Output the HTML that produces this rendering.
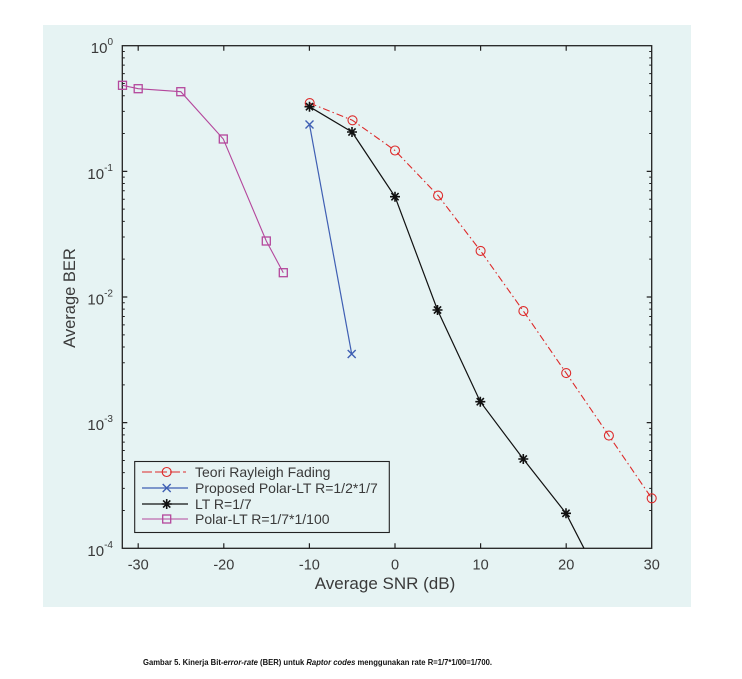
<!DOCTYPE html>
<html><head><meta charset="utf-8"><style>
html,body{margin:0;padding:0;background:#fff;}
svg{display:block;}
text{font-family:"Liberation Sans",Arial,sans-serif;}
</style></head><body>
<svg width="742" height="679" viewBox="0 0 742 679" xmlns="http://www.w3.org/2000/svg">
<rect x="0" y="0" width="742" height="679" fill="#ffffff"/>
<rect x="43" y="25" width="648" height="582" fill="#e6f3f3"/>

<!-- axes box -->
<rect x="122.3" y="45.7" width="529.4" height="502.6" fill="none" stroke="#222" stroke-width="1.3"/>

<!-- x major ticks -->
<path d="M138.2,548.3v-5M223.8,548.3v-5M309.4,548.3v-5M395,548.3v-5M480.6,548.3v-5M566.2,548.3v-5
M138.2,45.7v5M223.8,45.7v5M309.4,45.7v5M395,45.7v5M480.6,45.7v5M566.2,45.7v5" stroke="#222" stroke-width="1.2" fill="none"/>
<!-- y major ticks -->
<path d="M122.3,171.35h5M122.3,297h5M122.3,422.65h5M651.7,171.35h-5M651.7,297h-5M651.7,422.65h-5" stroke="#222" stroke-width="1.2" fill="none"/>
<!-- y minor ticks -->
<path d="M122.3,133.53h2.5M122.3,111.4h2.5M122.3,95.7h2.5M122.3,83.52h2.5M122.3,73.57h2.5M122.3,65.16h2.5M122.3,57.88h2.5M122.3,51.45h2.5
M122.3,259.18h2.5M122.3,237.05h2.5M122.3,221.35h2.5M122.3,209.17h2.5M122.3,199.22h2.5M122.3,190.81h2.5M122.3,183.53h2.5M122.3,177.1h2.5
M122.3,384.83h2.5M122.3,362.7h2.5M122.3,347h2.5M122.3,334.82h2.5M122.3,324.87h2.5M122.3,316.46h2.5M122.3,309.18h2.5M122.3,302.75h2.5
M122.3,510.48h2.5M122.3,488.35h2.5M122.3,472.65h2.5M122.3,460.47h2.5M122.3,450.52h2.5M122.3,442.11h2.5M122.3,434.83h2.5M122.3,428.4h2.5
M651.7,133.53h-2.5M651.7,111.4h-2.5M651.7,95.7h-2.5M651.7,83.52h-2.5M651.7,73.57h-2.5M651.7,65.16h-2.5M651.7,57.88h-2.5M651.7,51.45h-2.5
M651.7,259.18h-2.5M651.7,237.05h-2.5M651.7,221.35h-2.5M651.7,209.17h-2.5M651.7,199.22h-2.5M651.7,190.81h-2.5M651.7,183.53h-2.5M651.7,177.1h-2.5
M651.7,384.83h-2.5M651.7,362.7h-2.5M651.7,347h-2.5M651.7,334.82h-2.5M651.7,324.87h-2.5M651.7,316.46h-2.5M651.7,309.18h-2.5M651.7,302.75h-2.5
M651.7,510.48h-2.5M651.7,488.35h-2.5M651.7,472.65h-2.5M651.7,460.47h-2.5M651.7,450.52h-2.5M651.7,442.11h-2.5M651.7,434.83h-2.5M651.7,428.4h-2.5" stroke="#222" stroke-width="1" fill="none"/>

<!-- y tick labels -->
<g fill="#3a3a3a" font-size="15" text-anchor="end">
<text x="113" y="53">10<tspan dy="-8" font-size="10">0</tspan></text>
<text x="113" y="178.8">10<tspan dy="-8" font-size="10">-1</tspan></text>
<text x="113" y="304.5">10<tspan dy="-8" font-size="10">-2</tspan></text>
<text x="113" y="430.1">10<tspan dy="-8" font-size="10">-3</tspan></text>
<text x="113" y="555.8">10<tspan dy="-8" font-size="10">-4</tspan></text>
</g>
<!-- x tick labels -->
<g fill="#3a3a3a" font-size="14.5" text-anchor="middle">
<text x="138.2" y="569.5">-30</text>
<text x="223.8" y="569.5">-20</text>
<text x="309.4" y="569.5">-10</text>
<text x="395" y="569.5">0</text>
<text x="480.6" y="569.5">10</text>
<text x="566.2" y="569.5">20</text>
<text x="651.7" y="569.5">30</text>
</g>
<!-- axis labels -->
<text x="385" y="589" font-size="17" fill="#3a3a3a" text-anchor="middle">Average SNR (dB)</text>
<text transform="translate(75,298) rotate(-90)" font-size="16.5" fill="#3a3a3a" text-anchor="middle">Average BER</text>

<!-- Teori Rayleigh (red dash-dot) -->
<polyline points="309.7,103.1 352.5,120.3 395,150.5 438.1,195.6 480.6,250.9 523.4,311.1 566.2,373.1 608.9,435.6 651.7,498.3" fill="none" stroke="#dd2a2a" stroke-width="1.1" stroke-dasharray="7,3,1.5,3"/>
<g fill="none" stroke="#dd2a2a" stroke-width="1.1">
<circle cx="309.7" cy="103.1" r="4.5"/><circle cx="352.5" cy="120.3" r="4.5"/><circle cx="395" cy="150.5" r="4.5"/>
<circle cx="438.1" cy="195.6" r="4.5"/><circle cx="480.6" cy="250.9" r="4.5"/><circle cx="523.4" cy="311.1" r="4.5"/>
<circle cx="566.2" cy="373.1" r="4.5"/><circle cx="608.9" cy="435.6" r="4.5"/><circle cx="651.7" cy="498.3" r="4.5"/>
</g>

<!-- Proposed Polar-LT (blue x) -->
<polyline points="309.5,124.5 351.7,354" fill="none" stroke="#3f5fb3" stroke-width="1.2"/>
<path d="M305.5,120.5l8,8M313.5,120.5l-8,8M347.7,350l8,8M355.7,350l-8,8" stroke="#3f5fb3" stroke-width="1.4" fill="none"/>

<!-- LT (black stars) -->
<polyline points="309.5,106.7 352,132 395,196.7 437.5,310 480.3,401.7 523.3,459 566,513.3 584,548.3" fill="none" stroke="#111" stroke-width="1.2"/>
<g stroke="#111" stroke-width="1.6" fill="none">
<path d="M304.5,106.7h10M309.5,101.7v10M305.9,103.1l7.2,7.2M313.1,103.1l-7.2,7.2"/>
<path d="M347,132h10M352,127v10M348.4,128.4l7.2,7.2M355.6,128.4l-7.2,7.2"/>
<path d="M390,196.7h10M395,191.7v10M391.4,193.1l7.2,7.2M398.6,193.1l-7.2,7.2"/>
<path d="M432.5,310h10M437.5,305v10M433.9,306.4l7.2,7.2M441.1,306.4l-7.2,7.2"/>
<path d="M475.3,401.7h10M480.3,396.7v10M476.7,398.1l7.2,7.2M483.9,398.1l-7.2,7.2"/>
<path d="M518.3,459h10M523.3,454v10M519.7,455.4l7.2,7.2M526.9,455.4l-7.2,7.2"/>
<path d="M561,513.3h10M566,508.3v10M562.4,509.7l7.2,7.2M569.6,509.7l-7.2,7.2"/>
</g>

<!-- Polar-LT (magenta squares) -->
<polyline points="122.5,85.3 138.2,88.7 180.8,91.7 223.3,139 266.3,241 283.3,272.7" fill="none" stroke="#b4479c" stroke-width="1.1"/>
<g fill="none" stroke="#b4479c" stroke-width="1.3">
<rect x="118.5" y="81.3" width="8" height="8"/>
<rect x="134.2" y="84.7" width="8" height="8"/>
<rect x="176.8" y="87.7" width="8" height="8"/>
<rect x="219.3" y="135" width="8" height="8"/>
<rect x="262.3" y="237" width="8" height="8"/>
<rect x="279.3" y="268.7" width="8" height="8"/>
</g>

<!-- Legend -->
<rect x="134.7" y="461.5" width="254.6" height="71" fill="#e6f3f3" stroke="#222" stroke-width="1.1"/>
<line x1="142" y1="472" x2="188" y2="472" stroke="#dd2a2a" stroke-width="1.1" stroke-dasharray="10,3,12,3,10,3,3"/>
<circle cx="166.7" cy="472" r="4.5" fill="none" stroke="#dd2a2a" stroke-width="1.1"/>
<line x1="142" y1="488" x2="188" y2="488" stroke="#3f5fb3" stroke-width="1.2"/>
<path d="M162.7,484l8,8M170.7,484l-8,8" stroke="#3f5fb3" stroke-width="1.4"/>
<line x1="142" y1="504" x2="188" y2="504" stroke="#111" stroke-width="1.2"/>
<path d="M161.7,504h10M166.7,499v10M163.1,500.4l7.2,7.2M170.3,500.4l-7.2,7.2" stroke="#111" stroke-width="1.6"/>
<line x1="142" y1="519" x2="188" y2="519" stroke="#b4479c" stroke-width="1.1"/>
<rect x="162.7" y="515" width="8" height="8" fill="none" stroke="#b4479c" stroke-width="1.3"/>
<g fill="#3a3a3a" font-size="14">
<text x="195" y="477">Teori Rayleigh Fading</text>
<text x="195" y="493">Proposed Polar-LT R=1/2*1/7</text>
<text x="195" y="509">LT R=1/7</text>
<text x="195" y="524">Polar-LT R=1/7*1/100</text>
</g>

<!-- caption -->
<text x="143" y="665" font-size="7.8" font-weight="bold" fill="#111" textLength="349" lengthAdjust="spacingAndGlyphs">Gambar 5. Kinerja Bit-<tspan font-style="italic">error-rate</tspan> (BER) untuk <tspan font-style="italic">Raptor codes</tspan> menggunakan rate R=1/7*1/00=1/700.</text>
</svg>
</body></html>
